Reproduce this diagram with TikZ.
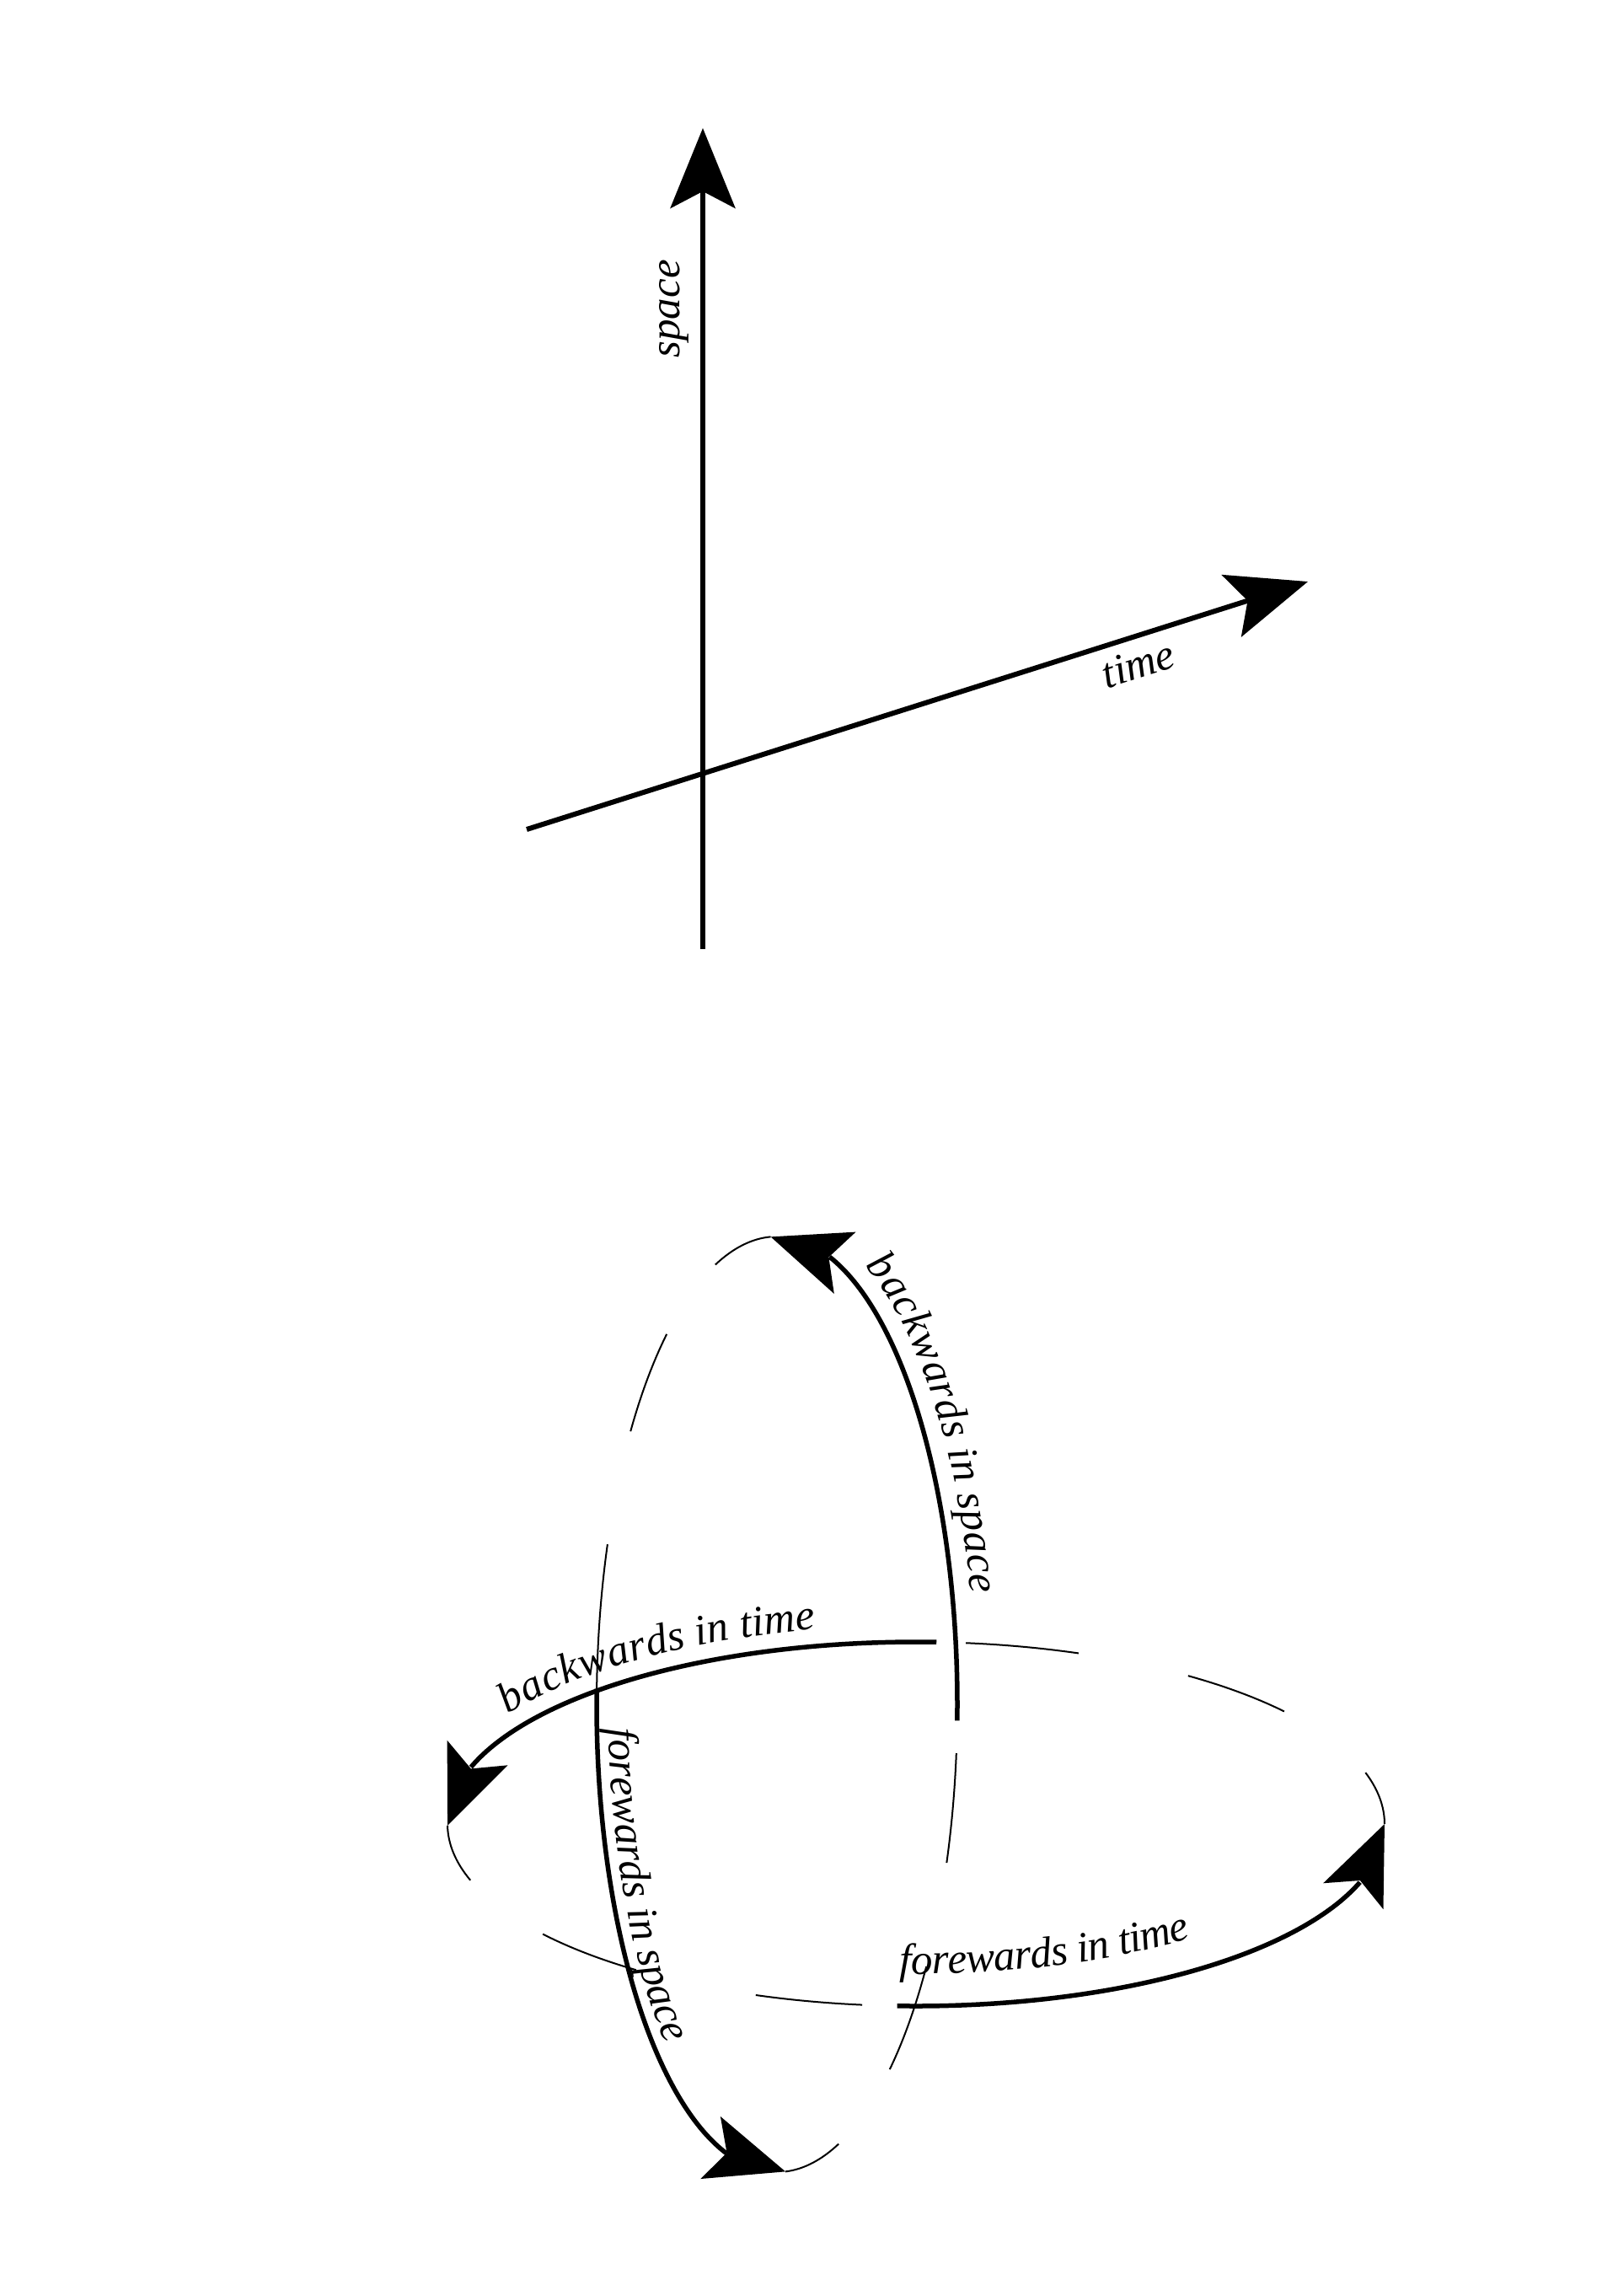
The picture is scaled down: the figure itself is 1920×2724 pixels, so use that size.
\documentclass[tikz,border=0pt]{standalone}
\usepackage{fontspec}
\setmainfont{Liberation Serif}
\usetikzlibrary{arrows.meta, bending, calc, decorations.text}
\tikzset{
  axis/.style={line width=0.6mm, -{Stealth[length=9.5mm, width=7.7mm, inset=2mm]}},
  way/.style={draw, line width=0.55mm, -{Stealth[length=9.3mm, width=7.7mm, inset=2mm, flex]}},
  guide/.style={draw, line width=0.2mm},
  lbl/.style={font=\itshape\fontsize{14.5}{17}\selectfont},
  curved/.style 2 args={decorate, decoration={text along path, raise=#2, text={|\itshape\fontsize{14.5}{17}\selectfont|#1}}},
}
% arcs of the upright circle (vc) and of the flat circle (hc)
\newcommand{\varc}[3][]{\path[#1] ($(vc)+({214*cos(#2)},{555*sin(#2)})$) arc[start angle=#2, end angle=#3, x radius=214, y radius=555];}
\newcommand{\harc}[3][]{\path[#1] ($(hc)+({556*cos(#2)},{216*sin(#2)})$) arc[start angle=#2, end angle=#3, x radius=556, y radius=216];}

\begin{document}
\begin{tikzpicture}[x=0.1mm, y=0.1mm]
  \useasboundingbox (0,0) rectangle (1920,-2724);
  % space-time axes
  \coordinate (tstart) at (625,-984);
  \coordinate (ttip) at (1552,-690);
  \coordinate (sbot) at (834,-1126);
  \coordinate (stip) at (834,-152);
  \draw[axis] (tstart) -- (ttip) node[lbl, pos=0.772, below, sloped, inner sep=3.5pt] (timelbl) {time};
  \draw[axis] (sbot) -- (stip) node[lbl, pos=0.78, above, sloped, inner sep=4pt] (spacelbl) {space};

  % the two circles
  \coordinate (vc) at (922,-2022);
  \coordinate (hc) at (1087,-2164);
  \foreach \a/\b in {92/110, 127.7/144.3, 160/178.1, 272.7/290, -51.3/-34.1, -19.8/-6}
    {\varc[guide]{\a}{\b}}
  \foreach \a/\b in {180.5/198, 217.2/233.3, 250/263.4, 0/16.4, 38.2/54.5, 69.7/83.9}
    {\harc[guide]{\a}{\b}}
  % the four ways
  \varc[way]{-2}{92}
  \varc[way]{178.1}{272.7}
  \harc[way]{87.5}{180.5}
  \harc[way]{267.7}{360}
  % labels along the ways
  \varc[curved={backwards in space}{2.2mm}]{66}{-5}
  \varc[curved={forewards in space}{1.4mm}]{183}{265}
  \harc[curved={backwards in time}{2mm}]{148.5}{75}
  \harc[curved={forewards in time}{3.8mm}]{-92}{-35}
\end{tikzpicture}
\end{document}
